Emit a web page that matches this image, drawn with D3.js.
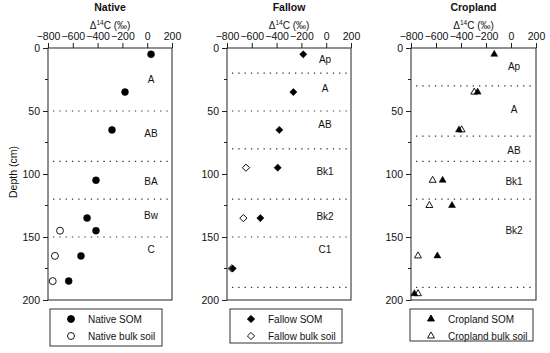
<!DOCTYPE html>
<html>
<head>
<meta charset="utf-8">
<script src="https://cdn.jsdelivr.net/npm/d3@7"></script>
<style>
  body { margin: 0; background: #fff; }
  text { font-family: "Liberation Sans", Arial, sans-serif; fill: #111; }
</style>
</head>
<body>
<div id="chart"></div>
<script>
// tick values shared by all three panels
const xTicks = [-800, -600, -400, -200, 0, 200];
const yTicks = [0, 50, 100, 150, 200];
const yMinor = [25, 75, 125, 175];

// Native
const nativeSomVal = [31, -179, -284, -413, -485, -413, -534, -633];
const nativeSomDepth = [5, 35, 65, 105, 135, 145, 165, 185];
const nativeBulkVal = [-703, -744, -762];
const nativeBulkDepth = [145, 165, 185];
const nativeBounds = [50, 90, 120, 150];
const nativeHorizons = ["A", "AB", "BA", "Bw", "C"];
const nativeHorizonDepth = [25, 68, 106, 133, 160];

// Fallow
const fallowSomVal = [-185, -265, -378, -391, -531, -754];
const fallowSomDepth = [5, 35, 65, 95, 135, 175];
const fallowBulkVal = [-647, -668, -762];
const fallowBulkDepth = [95, 135, 175];
const fallowBounds = [20, 50, 80, 120, 150, 190];
const fallowHorizons = ["Ap", "A", "AB", "Bk1", "Bk2", "C1"];
const fallowHorizonDepth = [9, 32, 61, 98, 134, 160];

// Cropland
const cropSomVal = [-134, -267, -416, -547, -472, -589, -773];
const cropSomDepth = [5, 35, 65, 105, 125, 165, 195];
const cropBulkVal = [-294, -395, -627, -653, -744, -744];
const cropBulkDepth = [35, 65, 105, 125, 165, 195];
const cropBounds = [30, 70, 90, 120, 190];
const cropHorizons = ["Ap", "A", "AB", "Bk1", "Bk2"];
const cropHorizonDepth = [15, 49, 81, 106, 145];

const svg = d3.select("#chart")
  .append("svg")
  .attr("width", 550)
  .attr("height", 353);

const plotTop = 48, plotBottom = 300;
const y = d3.scaleLinear().domain([0, 200]).range([plotTop, plotBottom]);

const panels = [
  {title: "Native", left: 48, right: 172, labelX: 151, legX: 50, legW: 112, legH: 37,
   som: nativeSomVal, somD: nativeSomDepth, bulk: nativeBulkVal, bulkD: nativeBulkDepth,
   bounds: nativeBounds, hz: nativeHorizons, hzD: nativeHorizonDepth, shape: "circle"},
  {title: "Fallow", left: 227, right: 351, labelX: 325, legX: 230, legW: 112, legH: 34,
   som: fallowSomVal, somD: fallowSomDepth, bulk: fallowBulkVal, bulkD: fallowBulkDepth,
   bounds: fallowBounds, hz: fallowHorizons, hzD: fallowHorizonDepth, shape: "diamond"},
  {title: "Cropland", left: 411, right: 536, labelX: 514, legX: 410, legW: 123, legH: 32,
   som: cropSomVal, somD: cropSomDepth, bulk: cropBulkVal, bulkD: cropBulkDepth,
   bounds: cropBounds, hz: cropHorizons, hzD: cropHorizonDepth, shape: "triangle"}
];

function marker(shape) {
  if (shape === "circle") return d3.symbol(d3.symbolCircle, 38)();
  if (shape === "diamond") return d3.symbol(d3.symbolSquare, 26)();
  return d3.symbol(d3.symbolTriangle, 21)();
}
function markerTransform(shape, cx, cy) {
  return "translate(" + cx + "," + cy + ")" + (shape === "diamond" ? " rotate(45)" : "");
}

panels.forEach(function(p) {
  const x = d3.scaleLinear().domain([-800, 200]).range([p.left, p.right]);
  const g = svg.append("g");
  const mid = (p.left + p.right) / 2;

  // titles
  g.append("text")
    .attr("x", mid).attr("y", 11)
    .attr("text-anchor", "middle")
    .style("font-size", "10.5px").style("font-weight", "bold")
    .text(p.title);
  const lab = g.append("text")
    .attr("x", mid).attr("y", 29)
    .attr("text-anchor", "middle")
    .style("font-size", "10px");
  lab.append("tspan").text("\u0394");
  lab.append("tspan").attr("dy", -4).style("font-size", "6.5px").text("14");
  lab.append("tspan").attr("dy", 4).text("C (\u2030)");

  // horizon boundaries
  g.selectAll(".bound")
    .data(p.bounds)
    .enter().append("line")
    .attr("x1", p.left + 5).attr("x2", p.right - 3)
    .attr("y1", d => y(d)).attr("y2", d => y(d))
    .attr("stroke", "#333").attr("stroke-width", 1.2)
    .attr("stroke-dasharray", "1.3,5");

  // frame
  g.append("rect")
    .attr("x", p.left).attr("y", plotTop)
    .attr("width", p.right - p.left).attr("height", plotBottom - plotTop)
    .attr("fill", "none").attr("stroke", "#222").attr("stroke-width", 1);

  // x axis on top
  const xAxis = g.append("g")
    .attr("transform", "translate(0," + plotTop + ")")
    .call(d3.axisTop(x).tickValues(xTicks).tickSize(5).tickPadding(3));
  xAxis.select(".domain").remove();
  xAxis.selectAll("line").attr("stroke", "#222");
  xAxis.selectAll("text").style("font-size", "10.5px")
    .style("font-family", "'Liberation Sans', Arial, sans-serif").attr("fill", "#111");

  // y axis
  const yAxis = g.append("g")
    .attr("transform", "translate(" + p.left + ",0)")
    .call(d3.axisLeft(y).tickValues(yTicks).tickSize(5).tickPadding(3));
  yAxis.select(".domain").remove();
  yAxis.selectAll("line").attr("stroke", "#222");
  yAxis.selectAll("text").style("font-size", "10.5px")
    .style("font-family", "'Liberation Sans', Arial, sans-serif").attr("fill", "#111");
  g.selectAll(".ymin")
    .data(yMinor)
    .enter().append("line")
    .attr("x1", p.left - 3).attr("x2", p.left)
    .attr("y1", d => y(d)).attr("y2", d => y(d))
    .attr("stroke", "#222");

  // horizon names
  g.selectAll(".hz")
    .data(p.hz)
    .enter().append("text")
    .attr("x", p.labelX)
    .attr("y", (d, i) => y(p.hzD[i]))
    .attr("dy", "0.35em")
    .attr("text-anchor", "middle")
    .style("font-size", "10px")
    .text(d => d);

  // bulk soil (open) then SOM (filled)
  g.selectAll(".bulk")
    .data(p.bulk)
    .enter().append("path")
    .attr("d", marker(p.shape))
    .attr("transform", (d, i) => markerTransform(p.shape, x(d), y(p.bulkD[i])))
    .attr("fill", "#fff").attr("stroke", "#000").attr("stroke-width", 0.9);
  g.selectAll(".som")
    .data(p.som)
    .enter().append("path")
    .attr("d", marker(p.shape))
    .attr("transform", (d, i) => markerTransform(p.shape, x(d), y(p.somD[i])))
    .attr("fill", "#000").attr("stroke", "#000").attr("stroke-width", 0.5);

  // legend
  const ly = 309;
  g.append("rect")
    .attr("x", p.legX).attr("y", ly)
    .attr("width", p.legW).attr("height", p.legH)
    .attr("fill", "#fff").attr("stroke", "#333").attr("stroke-width", 1);
  const rows = [{name: p.title + " SOM", fill: "#000"}, {name: p.title + " bulk soil", fill: "#fff"}];
  rows.forEach(function(r, i) {
    const cy = ly + 10 + i * 17;
    g.append("path")
      .attr("d", marker(p.shape))
      .attr("transform", markerTransform(p.shape, p.legX + 21, cy))
      .attr("fill", r.fill).attr("stroke", "#000").attr("stroke-width", 0.9);
    g.append("text")
      .attr("x", p.legX + 38).attr("y", cy)
      .attr("dy", "0.35em")
      .style("font-size", "10px")
      .text(r.name);
  });
});

// depth label
svg.append("text")
  .attr("transform", "translate(13,172) rotate(-90)")
  .attr("text-anchor", "middle")
  .attr("dy", "0.35em")
  .style("font-size", "10.5px")
  .text("Depth (cm)");
</script>
</body>
</html>
